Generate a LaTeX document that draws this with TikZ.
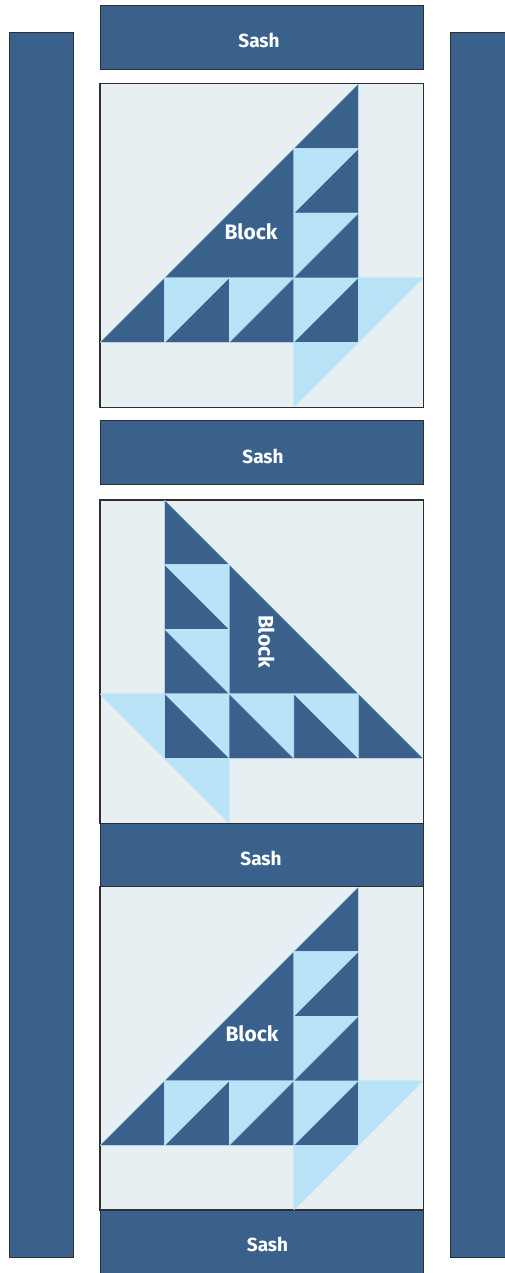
\documentclass[tikz,border=0pt]{standalone}
\usepackage{fontspec}
\setsansfont{Fira Sans}
\usepackage{tikz}

\definecolor{quiltdark}{HTML}{39618C}
\definecolor{quiltlight}{HTML}{B9E3F7}
\definecolor{quiltback}{HTML}{E7EFF3}
\definecolor{quiltline}{HTML}{2E2E2E}

\begin{document}
\begin{tikzpicture}[x=1pt,y=-1pt,
    bar/.style={rectangle,draw=quiltline,fill=quiltdark,line width=1pt,inner sep=0pt},
    sash/.style={rectangle,draw=quiltline,fill=quiltdark,line width=1pt,inner sep=0pt,
      minimum width=323pt,minimum height=64pt},
    blockbox/.style={rectangle,draw=quiltline,fill=quiltback,line width=1pt,inner sep=0pt,
      minimum width=323pt,minimum height=323pt},
    label/.style={text=white,inner sep=0pt,text depth=0pt,font=\sffamily\bfseries\fontsize{19}{22}\selectfont},
    blocklabel/.style={label,font=\sffamily\bfseries\fontsize{21}{24}\selectfont},
    dk/.style={fill=quiltdark,draw=quiltlight,line width=0.4pt},
    lt/.style={fill=quiltlight,draw=quiltlight,line width=0.4pt}]
  \useasboundingbox (0,0) rectangle (505,1273);
  % side borders
  \node[bar,minimum width=64pt,minimum height=1224pt] (lbar) at (41,645) {};
  \node[bar,minimum width=65pt,minimum height=1224pt] (rbar) at (482.5,645) {};
  % sashing
  \node[sash] (s1) at (261.5,38) {};
  \node[sash] (s2) at (261.5,452) {};
  \node[sash] (s3) at (261.5,854.5) {};
  \node[sash,minimum height=70pt] (s4) at (261.5,1244) {};
  % blocks
  \node[blockbox] (b1) at (261.5,245.5) {};
  \node[blockbox] (b2) at (261.5,661.5) {};
  \node[blockbox] (b3) at (261.5,1048) {};
  % block 1 and 3: sailboat
  \foreach \y in {84,887} {
    \begin{scope}[shift={(100,\y)},x=64.6pt,y=-64.6pt]
      \fill[dk] (0,4) -- (1,3) -- (1,4) -- cycle;
      \fill[dk] (3,1) -- (4,0) -- (4,1) -- cycle;
      \fill[dk] (1,3) -- (3,1) -- (3,3) -- cycle;
      \foreach \c/\r in {1/3,2/3,3/3,3/1,3/2} {
        \fill[lt] (\c,\r) -- (\c+1,\r) -- (\c,\r+1) -- cycle;
        \fill[dk] (\c+1,\r) -- (\c+1,\r+1) -- (\c,\r+1) -- cycle;
      }
      \fill[lt] (4,3) -- (5,3) -- (4,4) -- cycle;
      \fill[lt] (3,4) -- (4,4) -- (3,5) -- cycle;
    \end{scope}
  }
  % block 2: turned
  \begin{scope}[shift={(100,500)},x=64.6pt,y=-64.6pt]
    \fill[dk] (1,0) -- (1,1) -- (2,1) -- cycle;
    \fill[dk] (2,1) -- (2,3) -- (4,3) -- cycle;
    \foreach \c/\r in {1/1,1/2,1/3,2/3,3/3} {
      \fill[lt] (\c,\r) -- (\c+1,\r) -- (\c+1,\r+1) -- cycle;
      \fill[dk] (\c,\r) -- (\c,\r+1) -- (\c+1,\r+1) -- cycle;
    }
    \fill[dk] (4,3) -- (4,4) -- (5,4) -- cycle;
    \fill[lt] (0,3) -- (1,3) -- (1,4) -- cycle;
    \fill[lt] (1,4) -- (2,4) -- (2,5) -- cycle;
  \end{scope}
  % outlines again on top
  \foreach \b in {b1,b2,b3} \draw[quiltline,line width=1pt] (\b.north west) rectangle (\b.south east);
  % texts
  \node[label] (s1t) at (259,40) {Sash};
  \node[label] (s2t) at (263,456) {Sash};
  \node[label] (s3t) at (261,858) {Sash};
  \node[label] (s4t) at (267.5,1244) {Sash};
  \node[blocklabel] (t1) at (251,232) {Block};
  \node[blocklabel,rotate=-90] (t2) at (266.5,641.5) {Block};
  \node[blocklabel] (t3) at (252,1034) {Block};
\end{tikzpicture}
\end{document}
